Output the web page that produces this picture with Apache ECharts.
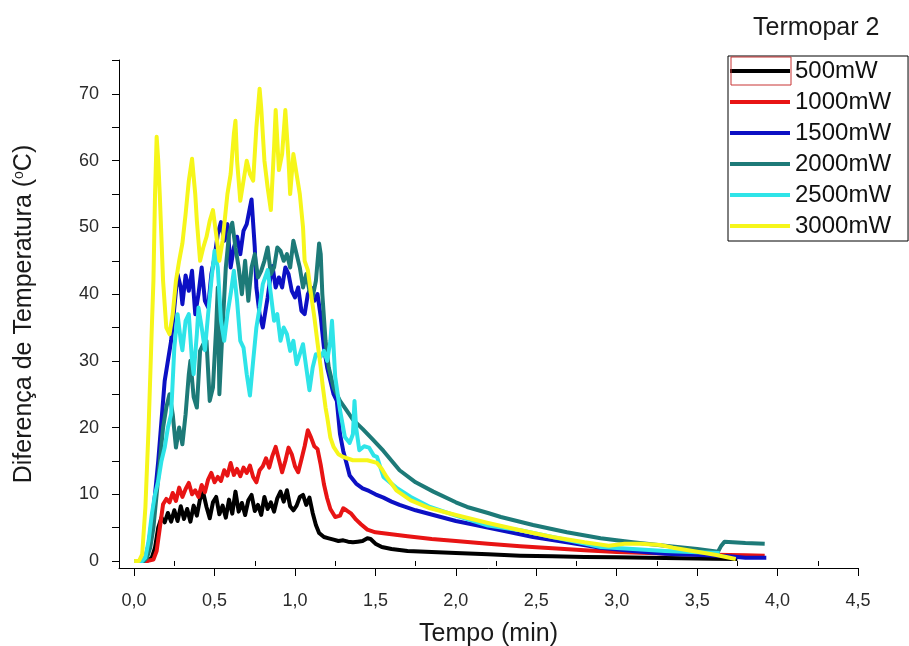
<!DOCTYPE html>
<html>
<head>
<meta charset="utf-8">
<title>Termopar 2</title>
<script src="https://cdn.jsdelivr.net/npm/echarts@6/dist/echarts.min.js"></script>
<style>
  html, body { margin: 0; padding: 0; background: #ffffff; }
  #chart { width: 909px; height: 646px; }
</style>
</head>
<body>
<div id="chart"></div>
<script>
// Temperature difference (°C) against time (min) for each laser power, thermocouple 2.
// Each series is a list of [tempo (min), diferença (°C)] pairs.

const seriesNames = ['500mW', '1000mW', '1500mW', '2000mW', '2500mW', '3000mW'];
const seriesColors = ['#000000', '#e81414', '#0c10c4', '#1d7a78', '#2ee4e8', '#f6f61a'];

const xTickLabels = [0, 0.5, 1, 1.5, 2, 2.5, 3, 3.5, 4, 4.5];
const xMinorTicks = [0.25, 0.75, 1.25, 1.75, 2.25, 2.75, 3.25, 3.75, 4.25];
const yTickLabels = [0, 10, 20, 30, 40, 50, 60, 70];
const yTicks = [0, 5, 10, 15, 20, 25, 30, 35, 40, 45, 50, 55, 60, 65, 70, 75];

const p500 = [
  [0,0],[0.05,0],[0.09,0.1],[0.11,0.5],[0.13,2],[0.15,5],[0.17,6.5],[0.19,5.8],[0.21,7.2],[0.23,5.9],
  [0.25,7.6],[0.27,6.0],[0.29,8.2],[0.31,6.3],[0.33,7.8],[0.35,5.9],[0.37,8.3],[0.39,6.8],[0.41,9.3],[0.43,10.2],
  [0.45,8.1],[0.47,6.4],[0.49,8.8],[0.51,9.6],[0.53,7.0],[0.55,8.3],[0.57,6.5],[0.59,9.2],[0.61,7.1],[0.63,10.4],
  [0.65,7.4],[0.67,8.7],[0.69,6.9],[0.71,9.1],[0.73,9.9],[0.75,7.5],[0.77,8.4],[0.79,6.9],[0.81,9.6],[0.83,7.8],
  [0.85,8.8],[0.87,7.4],[0.89,9.4],[0.91,10.4],[0.93,8.9],[0.95,10.6],[0.97,8.2],[0.99,7.6],[1.01,8.3],[1.03,9.6],
  [1.05,9.9],[1.07,8.4],[1.09,9.5],[1.11,7.2],[1.13,5.4],[1.15,4.2],[1.18,3.6],[1.21,3.4],[1.24,3.2],[1.27,3.0],
  [1.30,3.1],[1.33,2.9],[1.36,2.8],[1.39,2.9],[1.42,3.0],[1.45,3.4],[1.47,3.3],[1.50,2.6],[1.54,2.1],[1.60,1.8],
  [1.70,1.5],[1.85,1.35],[2.0,1.2],[2.2,1.0],[2.4,0.8],[2.6,0.7],[2.8,0.6],[3.0,0.55],[3.2,0.5],[3.4,0.4],
  [3.6,0.35],[3.75,0.3]
];

const p1000 = [
  [0,0],[0.08,0],[0.12,0.2],[0.14,1.5],[0.16,5],[0.18,8.5],[0.20,9.3],[0.22,8.8],[0.24,10.2],[0.26,9.0],
  [0.28,11.0],[0.30,9.6],[0.32,10.8],[0.34,11.7],[0.36,10.0],[0.38,10.6],[0.40,9.6],[0.42,11.4],[0.44,10.3],[0.46,12.2],
  [0.48,13.2],[0.50,11.8],[0.52,12.6],[0.54,12.0],[0.56,13.6],[0.58,12.8],[0.60,14.7],[0.62,12.9],[0.64,13.8],[0.66,12.7],
  [0.68,14.0],[0.70,13.2],[0.72,14.3],[0.74,12.6],[0.76,11.8],[0.78,13.6],[0.80,14.2],[0.82,15.4],[0.84,14.0],[0.86,15.8],
  [0.88,17.1],[0.90,15.2],[0.92,13.3],[0.94,15.0],[0.96,17.0],[0.98,16.0],[1.00,14.2],[1.02,13.3],[1.04,15.2],[1.06,17.2],
  [1.08,19.6],[1.10,18.5],[1.12,17.2],[1.14,16.8],[1.16,14.4],[1.18,11.5],[1.20,9.4],[1.22,7.8],[1.25,6.6],[1.28,6.8],
  [1.30,7.9],[1.32,7.6],[1.35,7.1],[1.38,6.2],[1.41,5.5],[1.45,4.7],[1.50,4.3],[1.60,4.0],[1.70,3.7],[1.85,3.3],
  [2.0,3.0],[2.2,2.6],[2.4,2.2],[2.6,1.9],[2.8,1.6],[3.0,1.35],[3.2,1.2],[3.4,1.05],[3.6,0.95],[3.8,0.85],[3.92,0.8]
];

const p1500 = [
  [0,0],[0.05,0],[0.07,0.5],[0.09,2.5],[0.11,6],[0.13,10],[0.15,15],[0.17,21],[0.19,27],[0.21,30],
  [0.23,33],[0.25,38],[0.27,43],[0.29,41],[0.30,38.5],[0.32,42.8],[0.34,40.5],[0.36,43.5],[0.38,37],[0.40,40],
  [0.42,44],[0.44,39],[0.46,38],[0.48,43],[0.50,45.5],[0.52,49],[0.54,50.8],[0.56,48],[0.58,50.5],[0.60,44],
  [0.62,47],[0.64,48.6],[0.66,46],[0.68,49.5],[0.70,50.5],[0.72,53],[0.73,54.2],[0.75,47],[0.76,41],[0.78,37],
  [0.80,35],[0.82,38],[0.83,39.5],[0.85,43],[0.86,44.2],[0.88,41],[0.90,42.5],[0.92,41],[0.94,44],[0.96,43],
  [0.98,40.5],[1.00,39.5],[1.02,41],[1.04,37.5],[1.06,37],[1.08,40],[1.10,41],[1.12,39],[1.14,40],[1.16,36.6],
  [1.18,32],[1.20,29],[1.22,27],[1.24,25],[1.26,24],[1.28,19],[1.30,16.5],[1.32,14.7],[1.34,12.8],[1.38,11.6],
  [1.42,10.9],[1.46,10.5],[1.50,10.0],[1.55,9.5],[1.60,8.9],[1.65,8.4],[1.75,7.6],[1.86,6.9],[2.0,6.0],[2.1,5.5],
  [2.28,4.6],[2.48,3.6],[2.69,2.8],[2.9,2.0],[3.1,1.5],[3.3,1.1],[3.52,0.9],[3.7,0.7],[3.8,0.5],[3.93,0.5]
];

const p2000 = [
  [0,0],[0.06,0],[0.08,0.5],[0.10,2],[0.12,5],[0.14,10],[0.16,15],[0.18,20],[0.20,23],[0.22,25],
  [0.24,22],[0.26,17],[0.28,20],[0.30,17.5],[0.32,22],[0.34,28],[0.35,30],[0.37,24.6],[0.39,23],[0.41,31.5],
  [0.43,32.5],[0.45,33],[0.47,24],[0.49,26],[0.51,35],[0.52,41],[0.53,25],[0.55,35],[0.57,44],[0.59,49],
  [0.61,50.7],[0.63,47],[0.65,44],[0.67,40],[0.69,45],[0.71,39],[0.73,44],[0.75,46],[0.77,42.5],[0.79,43.5],
  [0.81,45],[0.83,47],[0.85,43],[0.87,44],[0.89,47],[0.91,46.5],[0.93,45],[0.95,46],[0.97,44],[0.99,48],
  [1.01,46],[1.03,44],[1.05,41],[1.07,43],[1.09,40.5],[1.11,39.6],[1.13,42],[1.15,47.6],[1.16,46],[1.17,40],
  [1.19,33],[1.21,29],[1.24,26],[1.28,24],[1.32,22.6],[1.36,21.2],[1.42,19.8],[1.48,18.3],[1.55,16.5],[1.65,13.6],
  [1.75,11.8],[1.86,10.4],[2.0,8.8],[2.07,8.1],[2.2,7.2],[2.28,6.6],[2.48,5.4],[2.69,4.3],[2.9,3.4],[3.1,2.8],
  [3.3,2.3],[3.5,1.8],[3.63,1.4],[3.65,2.3],[3.67,2.9],[3.8,2.7],[3.92,2.6]
];

const p2500 = [
  [0,0],[0.05,0],[0.07,0.5],[0.09,3],[0.11,7],[0.13,10],[0.15,12],[0.17,15],[0.19,17],[0.21,20],
  [0.23,22],[0.25,32],[0.27,37],[0.29,33],[0.30,31.6],[0.32,36],[0.34,37],[0.36,30],[0.37,28],[0.39,34],
  [0.40,38],[0.42,35],[0.44,31.6],[0.46,37],[0.48,42],[0.50,46.5],[0.52,44],[0.54,36],[0.56,33],[0.58,37],
  [0.60,40],[0.62,43.5],[0.64,39],[0.66,33],[0.68,32],[0.70,28],[0.72,24.8],[0.74,30],[0.76,35],[0.78,38],
  [0.80,41.5],[0.83,43.6],[0.85,40],[0.87,36],[0.89,37],[0.91,33],[0.93,35],[0.95,34],[0.97,31.5],[0.99,33],
  [1.01,29.5],[1.03,31],[1.05,32.5],[1.07,29],[1.09,25.6],[1.11,29],[1.13,31],[1.16,30.6],[1.18,31.5],[1.20,30],
  [1.22,33],[1.23,36],[1.24,32],[1.25,27.6],[1.28,22.6],[1.31,18.6],[1.34,17.7],[1.36,19],[1.37,24],[1.38,20],
  [1.40,16.6],[1.43,17.2],[1.46,17],[1.49,15.8],[1.51,15.6],[1.55,12.6],[1.60,11.6],[1.63,11],[1.72,9.6],[1.84,8.1],
  [2.0,6.8],[2.2,5.3],[2.4,4.6],[2.6,3.6],[2.8,2.6],[2.9,2.1],[3.1,1.8],[3.3,1.5],[3.5,1.3],[3.64,1.2]
];

const p3000 = [
  [0,0],[0.03,0],[0.05,1],[0.07,8],[0.09,20],[0.11,35],[0.12,42],[0.13,55],[0.14,63.6],[0.15,60],
  [0.16,54.6],[0.18,42],[0.20,35],[0.22,34],[0.24,37],[0.26,42],[0.28,45],[0.30,47.6],[0.32,52],[0.34,57],
  [0.36,60.3],[0.38,55],[0.39,51],[0.41,45],[0.43,47],[0.45,48.6],[0.47,51],[0.49,52.6],[0.51,49],[0.53,45],
  [0.55,48],[0.58,55],[0.60,58],[0.62,64],[0.63,66],[0.64,60],[0.66,54],[0.68,57],[0.70,60],[0.72,58],
  [0.74,57],[0.76,65],[0.78,70.8],[0.79,68],[0.81,60],[0.83,56],[0.85,52.6],[0.87,62],[0.88,67.6],[0.90,58.6],
  [0.92,61],[0.94,67.6],[0.96,60],[0.97,55],[0.99,61],[1.01,58],[1.03,55],[1.05,50],[1.06,45],[1.08,43.6],
  [1.10,40],[1.12,36.6],[1.14,32.7],[1.16,29],[1.17,26.7],[1.19,23],[1.20,21.6],[1.22,18.5],[1.24,17.1],[1.27,16],
  [1.30,15.6],[1.36,15.1],[1.45,15.1],[1.51,14.7],[1.54,13.8],[1.57,12.6],[1.63,10.6],[1.72,9.1],[1.84,7.9],[2.0,6.9],
  [2.2,5.7],[2.4,4.6],[2.6,3.6],[2.8,2.8],[2.95,2.3],[3.05,2.6],[3.15,2.6],[3.27,2.4],[3.35,2.0],[3.5,1.4],
  [3.62,0.9],[3.74,0.3]
];

const seriesData = [p500, p1000, p1500, p2000, p2500, p3000];

const fontFamily = '"Liberation Sans", Arial, sans-serif';
const chart = echarts.init(document.getElementById('chart'), null, { renderer: 'canvas' });

const axisLineStyle = { color: '#000', width: 1 };

chart.setOption({
  animation: false,
  backgroundColor: '#ffffff',
  title: {
    text: 'Termopar 2',
    left: 748,
    top: 11,
    textStyle: { fontFamily: fontFamily, fontSize: 25, fontWeight: 'normal', color: '#1a1a1a' }
  },
  legend: {
    data: seriesNames,
    orient: 'vertical',
    left: 728,
    top: 56,
    padding: [3, 17, 3, 2],
    itemGap: 7,
    itemWidth: 60,
    itemHeight: 4,
    icon: 'rect',
    borderColor: '#000',
    borderWidth: 1,
    textStyle: { fontFamily: fontFamily, fontSize: 24, lineHeight: 22, color: '#111' }
  },
  graphic: [{
    type: 'rect',
    shape: { x: 731, y: 57, width: 60, height: 28 },
    style: { fill: 'none', stroke: '#c83434', lineWidth: 1 },
    silent: true,
    z: 100
  }],
  grid: { left: 119, right: 51, top: 60, bottom: 78, containLabel: false, outerBoundsMode: 'none' },
  xAxis: [{
    type: 'value',
    min: -0.094,
    max: 4.5,
    name: 'Tempo (min)',
    nameLocation: 'middle',
    nameGap: 54,
    nameTextStyle: { fontFamily: fontFamily, fontSize: 25, color: '#1a1a1a' },
    axisLine: { show: true, onZero: false, lineStyle: axisLineStyle },
    axisTick: { show: true, inside: false, length: 8, customValues: xTickLabels, lineStyle: axisLineStyle },
    axisLabel: {
      customValues: xTickLabels,
      margin: 24,
      fontFamily: fontFamily,
      fontSize: 18,
      color: '#2a2a2a',
      formatter: v => v.toFixed(1).replace('.', ',')
    },
    splitLine: { show: false }
  }, {
    type: 'value',
    min: -0.094,
    max: 4.5,
    position: 'bottom',
    axisLine: { show: false },
    axisTick: { show: true, inside: false, length: 5, customValues: xMinorTicks, lineStyle: axisLineStyle },
    axisLabel: { show: false },
    splitLine: { show: false }
  }],
  yAxis: {
    type: 'value',
    min: -1.05,
    max: 75.1,
    name: '{t|Diferença de Temperatura (}{s|o}{t|C)}',
    nameLocation: 'middle',
    nameRotate: 90,
    nameGap: 82,
    nameTextStyle: {
      rich: {
        t: { fontFamily: fontFamily, fontSize: 25, color: '#1a1a1a' },
        s: { fontFamily: fontFamily, fontSize: 14, color: '#1a1a1a', verticalAlign: 'top', padding: [0, 0, 11, 0] }
      }
    },
    axisLine: { show: true, onZero: false, lineStyle: axisLineStyle },
    axisTick: { show: true, inside: false, length: 7, customValues: yTicks, lineStyle: axisLineStyle },
    axisLabel: {
      customValues: yTickLabels,
      margin: 20,
      fontFamily: fontFamily,
      fontSize: 18,
      color: '#2a2a2a'
    },
    splitLine: { show: false }
  },
  series: seriesNames.map((name, i) => ({
    name: name,
    type: 'line',
    xAxisIndex: 0,
    data: seriesData[i],
    showSymbol: false,
    symbol: 'none',
    smooth: false,
    color: seriesColors[i],
    lineStyle: { width: 4, color: seriesColors[i], join: 'round' },
    z: 2 + i
  }))
});
</script>
</body>
</html>
